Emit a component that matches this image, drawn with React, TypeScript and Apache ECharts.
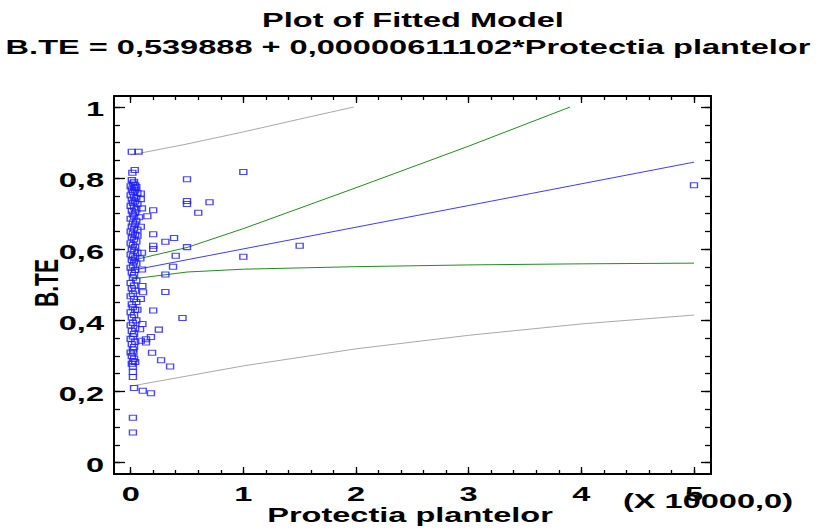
import React, { useEffect, useRef } from "react";
import * as echarts from "echarts";

const TITLE_LINE_1 = "Plot of Fitted Model";
const TITLE_LINE_2 = "B.TE = 0,539888 + 0,00000611102*Protectia plantelor";
const X_NAME = "Protectia plantelor";
const Y_NAME = "B.TE";
const X_MULTIPLIER = "(X 10000,0)";

const xMajorTicks = [0, 1, 2, 3, 4, 5];
const xTickLabels = ["0", "1", "2", "3", "4", "5"];
const xMinorTicks = [
  0, 0.2, 0.4, 0.6, 0.8, 1, 1.2, 1.4, 1.6, 1.8, 2, 2.2, 2.4, 2.6, 2.8, 3, 3.2,
  3.4, 3.6, 3.8, 4, 4.2, 4.4, 4.6, 4.8, 5,
];
const yMajorTicks = [0, 0.2, 0.4, 0.6, 0.8, 1];
const yTickLabels = ["0", "0,2", "0,4", "0,6", "0,8", "1"];
const yMinorTicks = [
  0, 0.05, 0.1, 0.15, 0.2, 0.25, 0.3, 0.35, 0.4, 0.45, 0.5, 0.55, 0.6, 0.65,
  0.7, 0.75, 0.8, 0.85, 0.9, 0.95, 1,
];

// observed points away from the main column
const spreadPoints = [
  [5.0, 0.78], [1.0, 0.817], [0.5, 0.797], [0.5, 0.736], [0.5, 0.727],
  [0.7, 0.732], [0.6, 0.703], [0.5, 0.606], [1.5, 0.61], [1.0, 0.579],
  [0.46, 0.407], [0.01, 0.874], [0.07, 0.874], [0.015, 0.815], [0.036, 0.823],
  [0.09, 0.757], [0.09, 0.741], [0.1, 0.715], [0.2, 0.71], [0.148, 0.693],
  [0.074, 0.69], [0.09, 0.663], [0.06, 0.638], [0.2, 0.642], [0.385, 0.632],
  [0.308, 0.621], [0.2, 0.61], [0.2, 0.601], [0.4, 0.582], [0.1, 0.59],
  [0.086, 0.574], [0.376, 0.551], [0.1, 0.543], [0.308, 0.529], [0.104, 0.497],
  [0.308, 0.48], [0.11, 0.479], [0.09, 0.46], [0.2, 0.428], [0.06, 0.43],
  [0.104, 0.39], [0.083, 0.375], [0.25, 0.374], [0.18, 0.353], [0.136, 0.347],
  [0.136, 0.338], [0.09, 0.343], [0.19, 0.309], [0.024, 0.309], [0.27, 0.288],
  [0.35, 0.27], [0.03, 0.21], [0.107, 0.202], [0.18, 0.195], [0.02, 0.126],
  [0.02, 0.085],
];

// observed points in the dense column near zero
const columnPoints = [
  [0.01, 0.795], [0.03, 0.79], [0.02, 0.785], [0.04, 0.78], [0.0, 0.777],
  [0.03, 0.772], [0.05, 0.775], [0.01, 0.768], [0.04, 0.765], [0.02, 0.76],
  [0.06, 0.758], [0.0, 0.752], [0.03, 0.748], [0.05, 0.745], [0.01, 0.74],
  [0.04, 0.735], [0.02, 0.73], [0.06, 0.727], [0.0, 0.722], [0.03, 0.718],
  [0.05, 0.712], [0.01, 0.708], [0.04, 0.703], [0.02, 0.698], [0.03, 0.692],
  [0.0, 0.686], [0.05, 0.68], [0.02, 0.675], [0.04, 0.67], [0.01, 0.664],
  [0.03, 0.658], [0.06, 0.655], [0.0, 0.65], [0.02, 0.645], [0.04, 0.64],
  [0.01, 0.634], [0.03, 0.628], [0.05, 0.622], [0.0, 0.617], [0.02, 0.612],
  [0.04, 0.606], [0.01, 0.6], [0.03, 0.596], [0.06, 0.59], [0.0, 0.585],
  [0.02, 0.58], [0.04, 0.575], [0.01, 0.57], [0.03, 0.565], [0.05, 0.56],
  [0.02, 0.554], [0.0, 0.548], [0.04, 0.542], [0.01, 0.535], [0.03, 0.528],
  [0.02, 0.52], [0.05, 0.512], [0.0, 0.505], [0.03, 0.498], [0.01, 0.49],
  [0.04, 0.483], [0.02, 0.475], [0.0, 0.468], [0.03, 0.46], [0.05, 0.452],
  [0.01, 0.445], [0.02, 0.437], [0.04, 0.43], [0.0, 0.423], [0.03, 0.415],
  [0.01, 0.408], [0.05, 0.4], [0.02, 0.393], [0.0, 0.386], [0.04, 0.378],
  [0.01, 0.37], [0.03, 0.362], [0.02, 0.355], [0.0, 0.348], [0.04, 0.34],
  [0.01, 0.333], [0.03, 0.325], [0.02, 0.318], [0.0, 0.31], [0.01, 0.3],
  [0.03, 0.292], [0.02, 0.285], [0.04, 0.283], [0.01, 0.278], [0.02, 0.27],
  [0.02, 0.255], [0.02, 0.241],
];

const fittedX = [0, 5];
const fittedY = [0.54, 0.845];
const confUpperX = [0, 0.5, 1, 2, 3, 3.9];
const confUpperY = [0.568, 0.605, 0.658, 0.773, 0.89, 1.0];
const confLowerX = [0, 0.5, 1, 2, 3, 4, 5];
const confLowerY = [0.516, 0.536, 0.544, 0.551, 0.556, 0.559, 0.561];
const predUpperX = [0, 0.5, 1, 1.5, 1.98];
const predUpperY = [0.865, 0.896, 0.93, 0.966, 1.0];
const predLowerX = [0, 1, 2, 3, 4, 5];
const predLowerY = [0.215, 0.272, 0.32, 0.358, 0.39, 0.415];

const pairs = (xs: number[], ys: number[]) => xs.map((x, i) => [x, ys[i]]);

export default function App() {
  const ref = useRef<HTMLDivElement>(null);
  useEffect(() => {
    const el = ref.current!;
    const chart = echarts.init(el, null, { renderer: "svg" });
    const FONT = '"Liberation Sans", Arial, Helvetica, sans-serif';
    const STRETCH = 1.55;
    const X_MIN = -0.148;
    const X_MAX = 5.151;
    const Y_MIN = -0.032;
    const Y_MAX = 1.031;
    const box = { left: 114, right: 105, top: 96, bottom: 57 };

    const mkX = (gridIndex: number, position: string, ticks: number[], len: number, line: boolean) => ({
      type: "value",
      gridIndex,
      position,
      offset: 0,
      min: X_MIN,
      max: X_MAX,
      axisLine: { show: line, onZero: false, lineStyle: { color: "#000", width: 2 } },
      axisTick: { show: true, inside: true, length: len, customValues: ticks, lineStyle: { color: "#000", width: 1.3 } },
      axisLabel: { show: false },
      splitLine: { show: false },
    });
    const mkY = (gridIndex: number, position: string, ticks: number[], len: number, line: boolean) => ({
      type: "value",
      gridIndex,
      position,
      offset: 0,
      min: Y_MIN,
      max: Y_MAX,
      axisLine: { show: line, onZero: false, lineStyle: { color: "#000", width: 2 } },
      axisTick: { show: true, inside: true, length: len, customValues: ticks, lineStyle: { color: "#000", width: 1.3 } },
      axisLabel: { show: false },
      splitLine: { show: false },
    });

    const lineSeries = (data: number[][], color: string) => ({
      type: "line",
      xAxisIndex: 0,
      yAxisIndex: 0,
      data,
      showSymbol: false,
      symbol: "none",
      lineStyle: { color, width: 1 },
      z: 2,
    });

    chart.setOption({
      animation: false,
      backgroundColor: "#fff",
      grid: [
        { ...box, containLabel: false },
        { ...box, containLabel: false },
      ],
      xAxis: [
        mkX(0, "bottom", xMajorTicks, 7, true),
        mkX(0, "top", xMajorTicks, 7, true),
        mkX(1, "bottom", xMinorTicks, 4, false),
        mkX(1, "top", xMinorTicks, 4, false),
      ],
      yAxis: [
        mkY(0, "left", yMajorTicks, 11, true),
        mkY(0, "right", yMajorTicks, 10, true),
        mkY(1, "left", yMinorTicks, 6, false),
        mkY(1, "right", yMinorTicks, 6, false),
      ],
      series: [
        lineSeries(pairs(predUpperX, predUpperY), "#a8a8a8"),
        lineSeries(pairs(predLowerX, predLowerY), "#a8a8a8"),
        lineSeries(pairs(confUpperX, confUpperY), "#218c21"),
        lineSeries(pairs(confLowerX, confLowerY), "#218c21"),
        lineSeries(pairs(fittedX, fittedY), "#3c3cff"),
        {
          type: "scatter",
          xAxisIndex: 0,
          yAxisIndex: 0,
          data: [...columnPoints, ...spreadPoints],
          symbol: "rect",
          symbolSize: [7, 5],
          itemStyle: { color: "rgba(255,255,255,0)", borderColor: "#1a1aff", borderWidth: 1.2 },
          z: 3,
        },
      ],
    });

    const px = (v: number) => chart.convertToPixel({ xAxisIndex: 0 }, v) as number;
    const py = (v: number) => chart.convertToPixel({ yAxisIndex: 0 }, v) as number;
    const left = px(X_MIN);
    const bottom = py(Y_MIN);

    const txt = (text: string, x: number, y: number, align: string, extra: any = {}) => ({
      type: "text",
      x,
      y,
      scaleX: STRETCH,
      ...extra,
      style: {
        text,
        fill: "#000",
        fontSize: 21,
        fontWeight: "bold",
        fontFamily: FONT,
        align,
        verticalAlign: "middle",
      },
    });

    const graphics: any[] = [];
    graphics.push(txt(TITLE_LINE_1, 413, 20, "center"));
    graphics.push(txt(TITLE_LINE_2, 408, 47, "center"));
    xMajorTicks.forEach((v, i) => graphics.push(txt(xTickLabels[i], px(v), bottom + 19.5, "center")));
    yMajorTicks.forEach((v, i) => graphics.push(txt(yTickLabels[i], left - 10, py(v) + 2, "right")));
    graphics.push(txt(X_MULTIPLIER, 708, 500.5, "center"));
    graphics.push(txt(X_NAME, 410, 515, "center"));
    graphics.push({
      type: "text",
      x: 47,
      y: 283,
      rotation: Math.PI / 2,
      scaleY: STRETCH,
      style: {
        text: Y_NAME,
        fill: "#000",
        fontSize: 21,
        fontWeight: "bold",
        fontFamily: FONT,
        align: "center",
        verticalAlign: "middle",
      },
    });
    chart.setOption({ graphic: graphics });

    return () => chart.dispose();
  }, []);
  return (
    <div
      ref={ref}
      style={{ position: "fixed", left: 0, top: 0, width: 816, height: 531, background: "#fff" }}
    />
  );
}
